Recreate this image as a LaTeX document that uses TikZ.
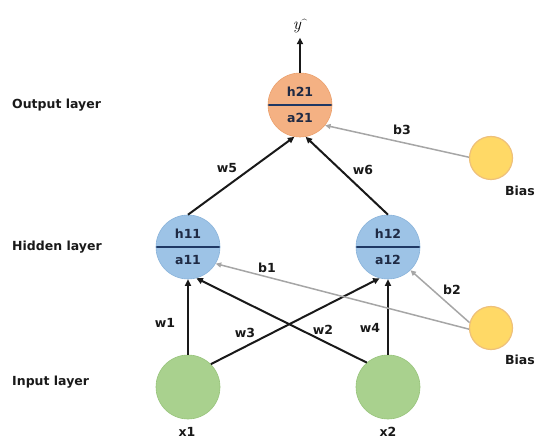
\documentclass[tikz,border=0pt]{standalone}
\usepackage{fontspec}
\usepackage{xcolor}
\usepackage{tikz}
\usetikzlibrary{arrows.meta,positioning}
\newfontfamily\diafont{DejaVu Sans}

\definecolor{orangefill}{HTML}{F4B183}
\definecolor{orangeline}{HTML}{EBA06C}
\definecolor{bluefill}{HTML}{9DC3E6}
\definecolor{blueline}{HTML}{8AB3DA}
\definecolor{greenfill}{HTML}{A9D18E}
\definecolor{greenline}{HTML}{98C47C}
\definecolor{yellowfill}{HTML}{FFD966}
\definecolor{yellowline}{HTML}{EEC07A}
\definecolor{splitcol}{HTML}{1F3864}
\definecolor{unittext}{HTML}{1F2A44}
\definecolor{biasgray}{HTML}{A6A6A6}

\begin{document}
\begin{tikzpicture}[
  x=1pt, y=1pt,
  on grid,
  unit/.style={circle, minimum size=64pt, inner sep=0pt, line width=0.6pt, align=center, text=unittext,
    font=\diafont\bfseries\fontsize{12.5}{26}\selectfont,
    path picture={\draw[line width=1.8pt, splitcol] (path picture bounding box.west) -- (path picture bounding box.east);}},
  outunit/.style={unit, fill=orangefill, draw=orangeline},
  hidunit/.style={unit, fill=bluefill, draw=blueline},
  inunit/.style={circle, minimum size=64pt, inner sep=0pt, line width=0.6pt, fill=greenfill, draw=greenline},
  biasunit/.style={circle, minimum size=43pt, inner sep=0pt, line width=1.2pt, fill=yellowfill, draw=yellowline},
  lbl/.style={font=\diafont\bfseries\fontsize{12.5}{15}\selectfont, text=black!90, inner sep=1pt},
  arrow/.style={-{Triangle[length=6.5pt, width=6pt]}, line width=2pt, black!90},
  biasarrow/.style={-{Triangle[length=5.5pt, width=5pt]}, line width=1.5pt, biasgray}
]
\useasboundingbox (0,0) rectangle (540,439);

\node[outunit] (out) at (300,334) {h21\\a21};
\node[hidunit, below left=142pt and 112pt of out] (h11) {h11\\a11};
\node[hidunit, below right=142pt and 88pt of out] (h12) {h12\\a12};
\node[inunit, below=140pt of h11] (x1) {};
\node[inunit, below=140pt of h12] (x2) {};
\node[biasunit, below right=53pt and 191pt of out] (biast) {};
\node[biasunit, below right=81pt and 103pt of h12] (biasb) {};
\coordinate[above=35pt of out.north] (yend);

% layer names
\node[lbl, anchor=west] (outlayer) at (11,334) {Output layer};
\node[lbl, anchor=west] (hidlayer) at (11,192) {Hidden layer};
\node[lbl, anchor=west] (inlayer) at (11,57) {Input layer};

% weights and biases
\node[lbl] (lw5) at (227,271) {w5};
\node[lbl] (lw6) at (363,269) {w6};
\node[lbl] (lb3) at (402,309) {b3};
\node[lbl] (lb1) at (267,171) {b1};
\node[lbl] (lb2) at (452,149) {b2};
\node[lbl] (lw1) at (165,116) {w1};
\node[lbl] (lw3) at (245,106) {w3};
\node[lbl] (lw2) at (323,109) {w2};
\node[lbl] (lw4) at (370,111) {w4};
\node[lbl] (lx1) at (187,7) {x1};
\node[lbl] (lx2) at (388,7) {x2};
\node[lbl] (lbiast) at (520,248) {Bias};
\node[lbl] (lbiasb) at (520,79) {Bias};
\node[font=\fontsize{17}{19}\selectfont] (yhat) at (300,413) {\textit{y}\raisebox{0.35ex}{\fontsize{10}{10}\selectfont\textasciicircum}};

\draw[arrow] (x1.north) -- (h11.south);
\draw[arrow] (x1.45) -- (h12.255);
\draw[arrow] (x2.131) -- (h11.285);
\draw[arrow] (x2.north) -- (h12.south);
\draw[arrow] (h11.north) -- (out.260);
\draw[arrow] (h12.north) -- (out.280);
\draw[arrow] (out.north) -- (yend);
\draw[biasarrow] (biast.178) -- (out.321);
\draw[biasarrow] (biasb.183) -- (h11.329);
\draw[biasarrow] (biasb.166) -- (h12.314);
\end{tikzpicture}
\end{document}
